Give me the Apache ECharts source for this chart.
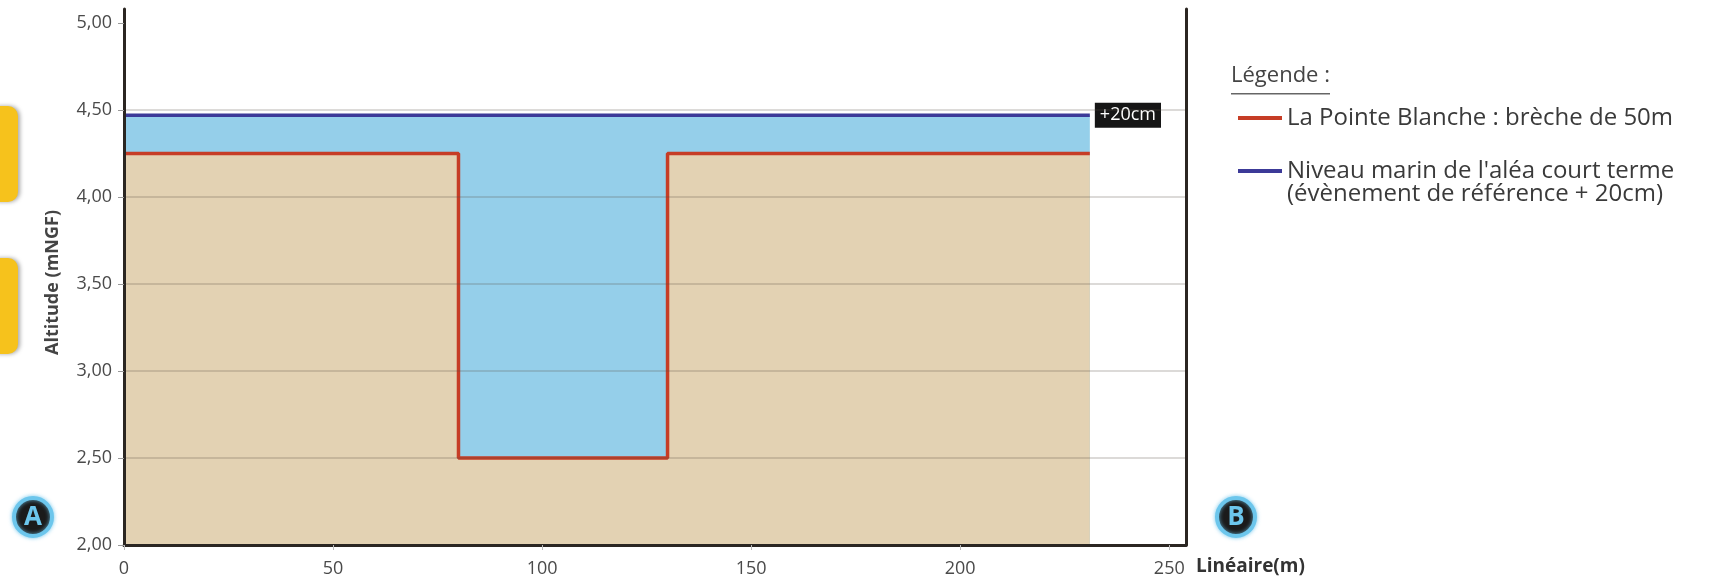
<!DOCTYPE html>
<html>
<head>
<meta charset="utf-8">
<script src="https://cdn.jsdelivr.net/npm/echarts@6/dist/echarts.min.js"></script>
<style>
html,body{margin:0;padding:0;background:#fff;}
#c{width:1734px;height:579px;}
</style>
</head>
<body>
<div id="c"></div>
<script>
// ---- data ----
const groundX = [0, 80, 80, 130, 130, 231];
const groundY = [4.25, 4.25, 2.5, 2.5, 4.25, 4.25];
const seaX = [0, 231];
const seaY = [4.47, 4.47];
const xTicks = [0, 50, 100, 150, 200, 250];
const yTicks = [2.0, 2.5, 3.0, 3.5, 4.0, 4.5, 5.0];
const groundName = "La Pointe Blanche : brèche de 50m";
const seaName = "Niveau marin de l'aléa court terme\n(évènement de référence + 20cm)";
const seaLabel = "+20cm";

const FONT = "'Open Sans', 'Noto Sans', sans-serif";
const chart = echarts.init(document.getElementById('c'), null, {renderer: 'canvas'});

function badge(letter, cx, cy) {
  return {
    type: 'group', x: cx, y: cy, children: [
      {type: 'circle', shape: {cx: 0, cy: 0, r: 19}, style: {fill: '#1b1b1b', stroke: '#6cc6ec', lineWidth: 4, shadowBlur: 4, shadowColor: 'rgba(108,198,236,0.8)'}},
      {type: 'text', style: {text: letter, x: 0, y: 1, align: 'center', verticalAlign: 'middle', fill: '#6cc6ec', font: "bold 26px 'Open Sans', sans-serif"}}
    ]
  };
}

chart.setOption({
  animation: false,
  backgroundColor: '#ffffff',
  grid: {left: 124, right: 548, top: 9, bottom: 34, containLabel: false},
  xAxis: {
    type: 'value', min: 0, max: 254, interval: 50, z: 3,
    name: 'Linéaire(m)', nameLocation: 'end', nameGap: 10,
    nameTextStyle: {fontFamily: FONT, fontWeight: 'bold', fontSize: 19, color: '#333', align: 'left', verticalAlign: 'top', padding: [12, 0, 0, 0]},
    axisLine: {show: true, lineStyle: {color: '#2b2622', width: 3}},
    axisTick: {show: true, customValues: xTicks, length: 5, lineStyle: {color: '#bbb'}},
    axisLabel: {customValues: xTicks, fontFamily: FONT, fontSize: 18, color: '#4a4a4a', margin: 15,
      formatter: v => String(v)},
    splitLine: {show: false}
  },
  yAxis: [{
    type: 'value', min: 2, max: 5.08, interval: 0.5, z: 3,
    name: 'Altitude (mNGF)', nameLocation: 'middle', nameGap: 62, nameRotate: 90,
    nameTextStyle: {fontFamily: FONT, fontWeight: 'bold', fontSize: 18, color: '#444', padding: [0, 11, 0, 0]},
    axisLine: {show: true, lineStyle: {color: '#2b2622', width: 3}},
    axisTick: {show: true, customValues: yTicks, length: 6, lineStyle: {color: '#999'}},
    axisLabel: {customValues: yTicks, fontFamily: FONT, fontSize: 18, color: '#4a4a4a', margin: 12,
      formatter: v => v.toFixed(2).replace('.', ',')},
    splitLine: {show: true, showMinLine: false, showMaxLine: false, lineStyle: {color: 'rgba(90,80,70,0.28)', width: 1.5}}
  }, {
    type: 'value', min: 2, max: 5.08, position: 'right', z: 3,
    axisLine: {show: true, onZero: false, lineStyle: {color: '#2b2622', width: 3}},
    axisTick: {show: false}, axisLabel: {show: false}, splitLine: {show: false}
  }],
  legend: {
    orient: 'vertical', left: 1233, top: 101, itemWidth: 44, itemHeight: 4, itemGap: 6,
    icon: 'rect',
    textStyle: {fontFamily: FONT, fontSize: 24, color: '#3a3a3a', lineHeight: 23},
    formatter: name => (name === seaName ? '\n' + name : name),
    data: [groundName, seaName]
  },
  series: [
    {
      name: seaName, type: 'line', symbol: 'none', z: 2,
      data: seaX.map((x, i) => [x, seaY[i]]),
      itemStyle: {color: '#3c3a98'},
      lineStyle: {color: '#3c3a98', width: 3.5},
      areaStyle: {color: '#95cfea', opacity: 1, origin: 'start'},
      endLabel: {show: true, formatter: seaLabel, color: '#fff', backgroundColor: '#161616',
        fontFamily: FONT, fontSize: 18, padding: [4, 5, 3, 5], distance: 5}
    },
    {
      name: groundName, type: 'line', symbol: 'none', z: 2,
      data: groundX.map((x, i) => [x, groundY[i]]),
      itemStyle: {color: '#c63d26'},
      lineStyle: {color: '#c63d26', width: 3.5},
      areaStyle: {color: '#e3d2b3', opacity: 1, origin: 'start'}
    }
  ],
  graphic: [
    {type: 'rect', left: -12, top: 106, shape: {width: 30, height: 96, r: 10}, style: {fill: '#f6c21c', shadowBlur: 4, shadowColor: 'rgba(0,0,0,0.35)', shadowOffsetX: 2}},
    {type: 'rect', left: -12, top: 258, shape: {width: 30, height: 96, r: 10}, style: {fill: '#f6c21c', shadowBlur: 4, shadowColor: 'rgba(0,0,0,0.35)', shadowOffsetX: 2}},
    badge('A', 33, 517),
    badge('B', 1236, 517),
    {type: 'text', left: 1231, top: 65, style: {text: 'Légende :', fill: '#444', font: "22px 'Open Sans', sans-serif"}},
    {type: 'rect', left: 1231, top: 93, shape: {width: 99, height: 1.5}, style: {fill: '#666'}}
  ]
});
</script>
</body>
</html>
